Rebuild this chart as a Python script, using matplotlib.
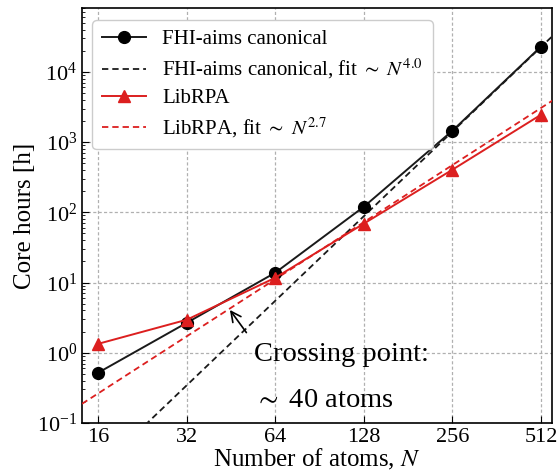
import numpy as np
import matplotlib
matplotlib.use("Agg")
import matplotlib.pyplot as plt
from matplotlib.ticker import FixedLocator, FixedFormatter, LogLocator, NullFormatter

plt.rcParams['font.family'] = ['Liberation Serif', 'DejaVu Serif']
plt.rcParams['mathtext.fontset'] = 'stix'

atoms = [16, 32, 64, 128, 256, 512]
fhi_hours = [0.52, 2.67, 13.8, 120, 1450, 22900]
librpa_hours = [1.34, 2.95, 11.7, 69, 404, 2450]
fhi_fit_exp = 4.0
fhi_fit_pref = 3.28e-7
librpa_fit_exp = 2.7
librpa_fit_pref = 1.48e-4
xtick_labels = ['16', '32', '64', '128', '256', '512']

red = '#dc1f1f'

fig = plt.figure(figsize=(5.6, 4.74), dpi=100)
ax = fig.add_axes([82/560, 1 - 423/474, (552-82)/560, (423-8)/474])

xf = np.geomspace(14.1, 560, 200)
ax.plot(atoms, fhi_hours, '-o', color='#1a1a1a', mfc='black', mec='black', ms=8.5, lw=1.4,
        label='FHI-aims canonical', zorder=4)
ax.plot(xf, fhi_fit_pref * xf**fhi_fit_exp, '--', color='#1a1a1a', lw=1.3, dashes=(3.5, 2.2),
        label=r'FHI-aims canonical, fit $\sim$ $N^{4.0}$', zorder=3)
ax.plot(atoms, librpa_hours, '-^', color=red, ms=8.5, lw=1.4, label='LibRPA', zorder=4)
ax.plot(xf, librpa_fit_pref * xf**librpa_fit_exp, '--', color=red, lw=1.3, dashes=(3.5, 2.2),
        label=r'LibRPA, fit $\sim$ $N^{2.7}$', zorder=3)

ax.set_xscale('log', base=2)
ax.set_yscale('log')
ax.set_xlim(14.1, 558)
ax.set_ylim(0.1, 8.1e4)
ax.xaxis.set_major_locator(FixedLocator(atoms))
ax.xaxis.set_major_formatter(FixedFormatter(xtick_labels))
ax.xaxis.set_minor_locator(FixedLocator([]))
ax.yaxis.set_major_locator(LogLocator(base=10, numticks=20))
ax.yaxis.set_minor_locator(LogLocator(base=10, subs=np.arange(2, 10), numticks=20))
ax.yaxis.set_minor_formatter(NullFormatter())
ax.tick_params(which='both', direction='in', labelsize=16)
ax.tick_params(which='major', length=5)
ax.tick_params(which='minor', length=2.5)
ax.grid(True, which='major', color='#b0b0b0', lw=0.9, dashes=(2.5, 1.8))
for s in ax.spines.values():
    s.set_linewidth(1.2)

ax.set_xlabel('Number of atoms, $N$', fontsize=18, labelpad=0)
ax.set_ylabel('Core hours [h]', fontsize=18, labelpad=1)

leg = ax.legend(loc='upper left', fontsize=15, frameon=True, fancybox=True,
                framealpha=1, edgecolor='#cccccc', handlelength=2.1,
                borderpad=0.45, labelspacing=0.35, handletextpad=0.8,
                bbox_to_anchor=(0.0, 0.995))

ax.annotate('', xy=(44.3, 4.38), xytext=(51.7, 1.8),
            arrowprops=dict(arrowstyle='->', color='black', lw=1.2, mutation_scale=18))
ax.text(0.365, 0.165, 'Crossing point:', transform=ax.transAxes, fontsize=20.5,
        va='center', ha='left')
ax.text(0.365, 0.055, r'$\sim$ 40 atoms', transform=ax.transAxes, fontsize=20.5,
        va='center', ha='left')

fig.savefig('out.png', dpi=100)
